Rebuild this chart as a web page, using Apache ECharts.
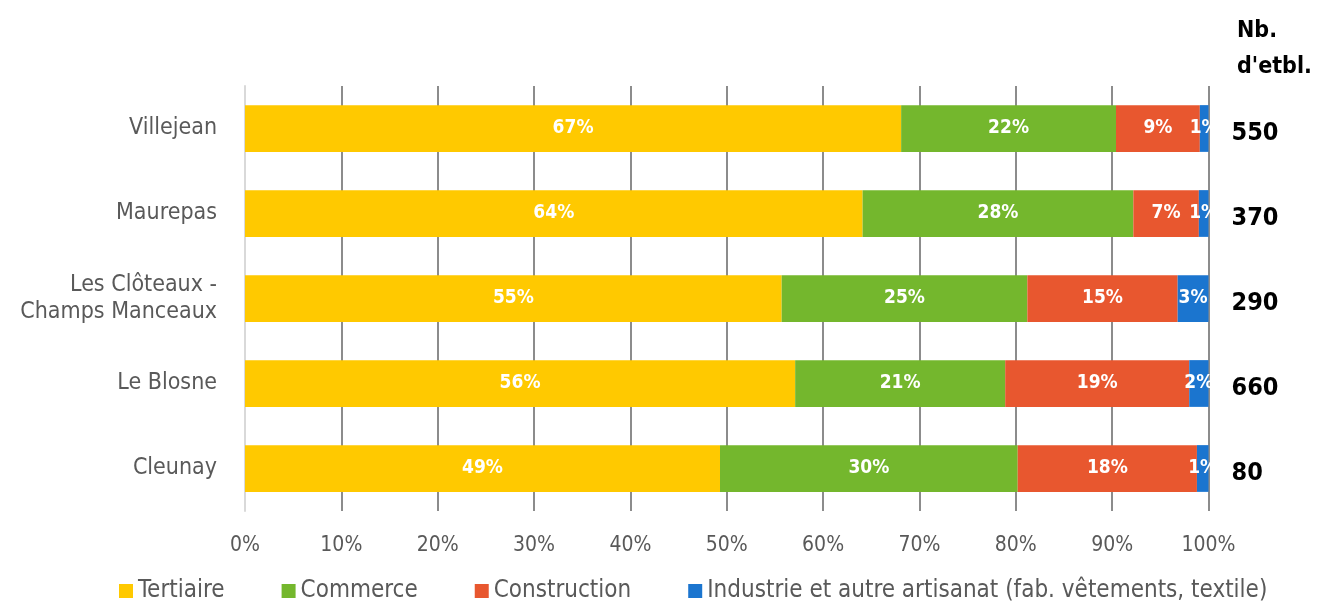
<!DOCTYPE html>
<html><head><meta charset="utf-8">
<script src="https://cdn.jsdelivr.net/npm/echarts@6/dist/echarts.min.js"></script>
<style>html,body{margin:0;padding:0;background:#fff}#c{width:1320px;height:605px}</style>
</head><body><div id="c"></div>
<script>
const categories = ["Villejean", "Maurepas", "Les Clôteaux -\nChamps Manceaux", "Le Blosne", "Cleunay"];
const counts = ["550", "370", "290", "660", "80"];
const seriesNames = ["Tertiaire", "Commerce", "Construction", "Industrie et autre artisanat (fab. vêtements, textile)"];
const tertiaire = [68.1, 64.1, 55.7, 57.1, 49.3];
const commerce = [22.3, 28.1, 25.5, 21.8, 30.9];
const construction = [8.7, 6.8, 15.6, 19.1, 18.6];
const industrie = [0.9, 1.0, 3.2, 2.0, 1.2];
const labTertiaire = ["67%", "64%", "55%", "56%", "49%"];
const labCommerce = ["22%", "28%", "25%", "21%", "30%"];
const labConstruction = ["9%", "7%", "15%", "19%", "18%"];
const labIndustrie = ["1%", "1%", "3%", "2%", "1%"];
const xTicks = [0, 10, 20, 30, 40, 50, 60, 70, 80, 90, 100];

const FONT = '"Liberation Sans Narrow", "DejaVu Sans Condensed", "Roboto Condensed", sans-serif';
const colors = ["#FFC900", "#74B72D", "#E8572F", "#1B75CF"];
const values = [tertiaire, commerce, construction, industrie];
const labels = [labTertiaire, labCommerce, labConstruction, labIndustrie];

const chart = echarts.init(document.getElementById('c'), null, {renderer: 'canvas'});
chart.setOption({
  animation: false,
  textStyle: {fontFamily: FONT},
  grid: {left: 245, right: 111.5, top: 86, height: 425, containLabel: false},
  title: {
    text: "Nb.\nd'etbl.",
    left: 1232, top: 8,
    textStyle: {fontFamily: FONT, fontSize: 23, fontWeight: 'bold', color: '#000', lineHeight: 36}
  },
  legend: {
    left: 114, top: 574,
    itemWidth: 14, itemHeight: 14, itemGap: 57,
    icon: 'rect',
    textStyle: {fontFamily: FONT, fontSize: 24, color: '#595959', padding: [0,0,0,0]},
    data: seriesNames
  },
  xAxis: {
    type: 'value', min: 0, max: 100, interval: 10,
    axisLine: {show: false},
    axisTick: {show: false},
    splitLine: {show: true, lineStyle: {color: '#8c8c8c', width: 2}},
    axisLabel: {
      fontFamily: FONT, fontSize: 21, color: '#595959', margin: 24,
      formatter: v => xTicks.includes(v) ? v + '%' : ''
    }
  },
  yAxis: [{
    type: 'category', inverse: true, data: categories,
    axisLine: {show: true, lineStyle: {color: '#d9d9d9', width: 2}},
    axisTick: {show: false},
    axisLabel: {fontFamily: FONT, fontSize: 23, color: '#595959', margin: 28, lineHeight: 27, align: 'right'}
  }, {
    type: 'category', inverse: true, data: counts, position: 'right',
    axisLine: {show: false}, axisTick: {show: false},
    axisLabel: {
      margin: 23, align: 'left',
      formatter: v => '{n|' + v + '}',
      rich: {n: {fontFamily: FONT, fontSize: 25, fontWeight: 'bold', color: '#000', padding: [10, 0, 0, 0]}}
    }
  }],
  series: values.map((vals, i) => ({
    name: seriesNames[i], type: 'bar', stack: 'total',
    barCategoryGap: '45%',
    itemStyle: {color: colors[i]},
    label: {
      show: true, position: 'inside', color: '#fff',
      fontFamily: FONT, fontSize: 19, fontWeight: 'bold',
      formatter: p => labels[i][p.dataIndex]
    },
    data: vals
  }))
});
</script></body></html>
